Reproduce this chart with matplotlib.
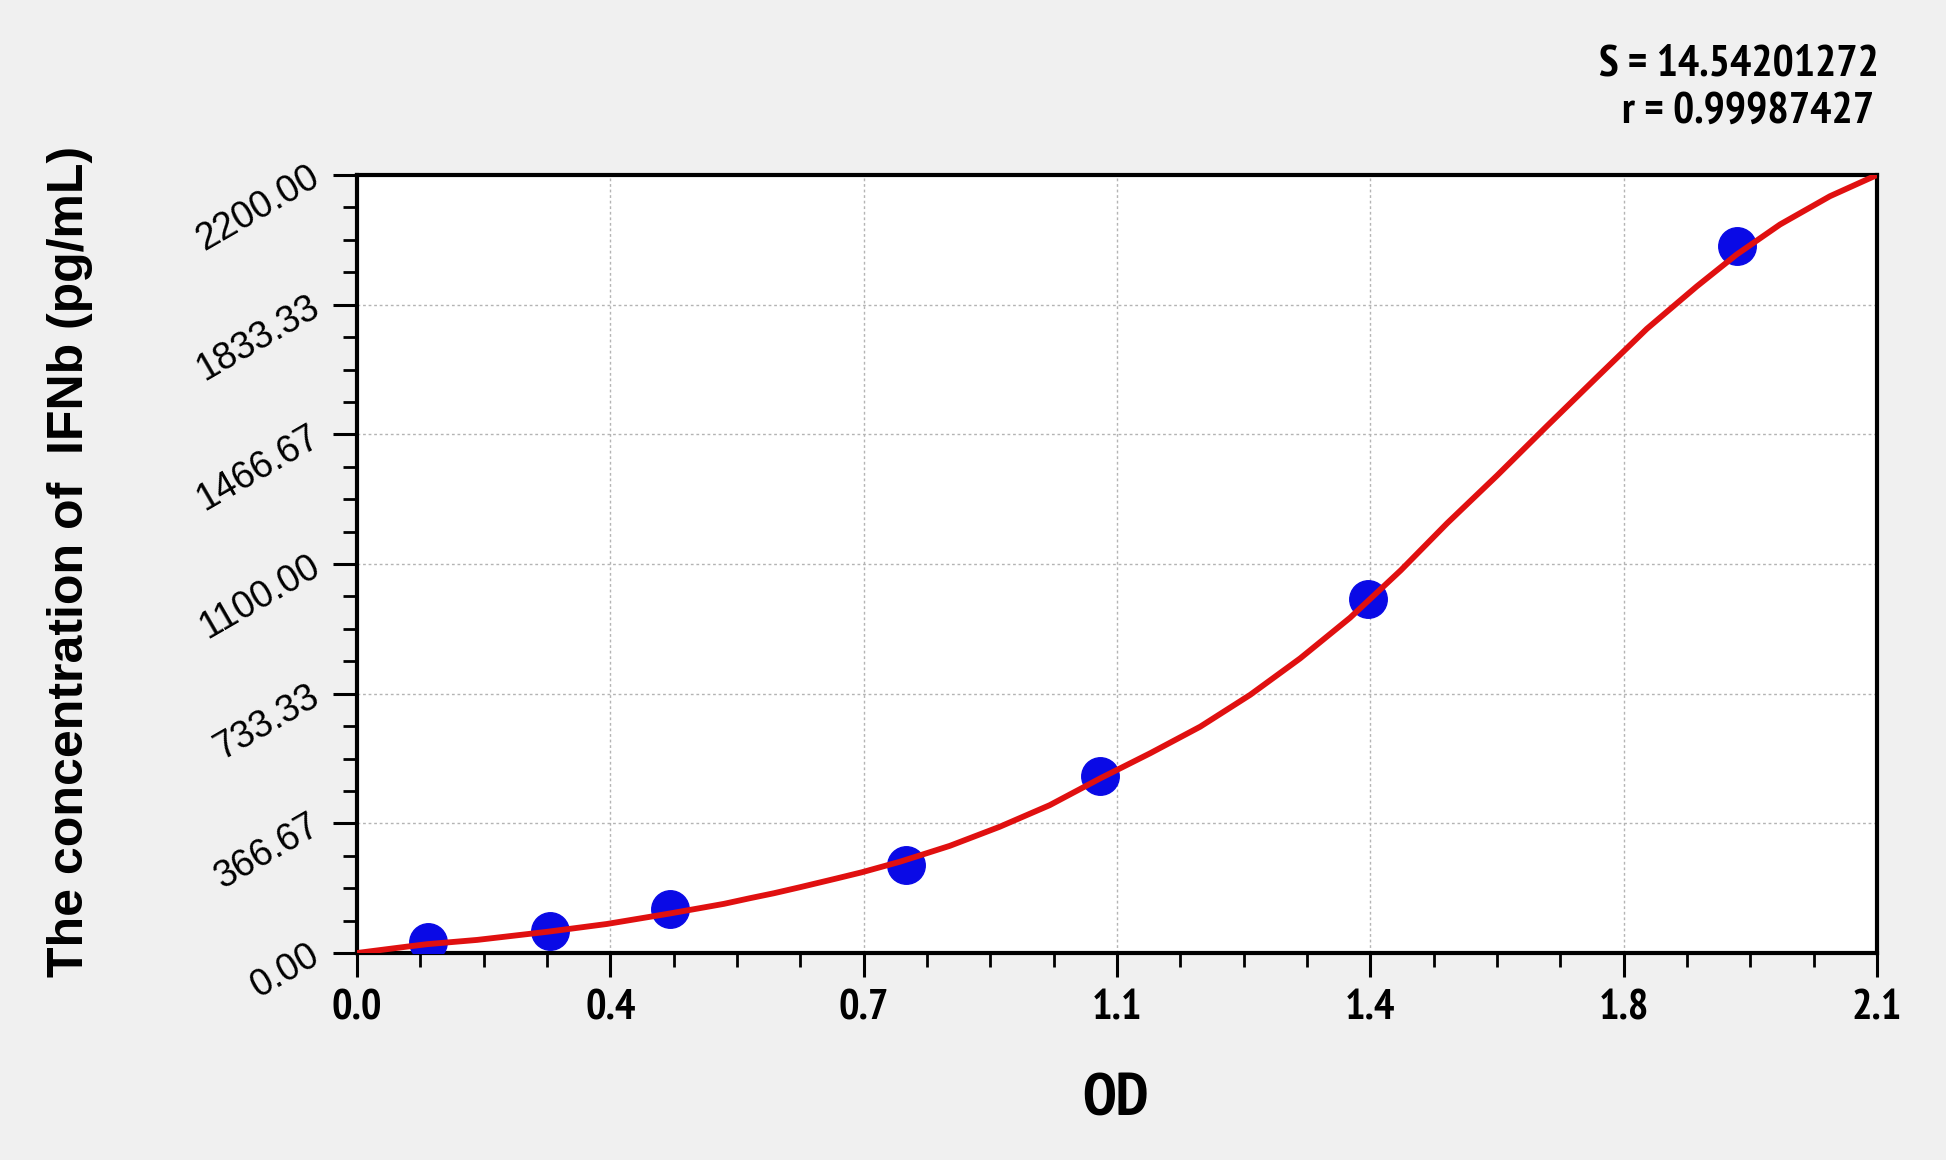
import numpy as np
import matplotlib
matplotlib.use("Agg")
import matplotlib.pyplot as plt
from matplotlib import font_manager as fm
from matplotlib.ticker import FixedLocator, MultipleLocator

# ---- data ----
std_od = [0.098, 0.267, 0.433, 0.759, 1.027, 1.397, 1.906]
std_conc = [31.25, 62.5, 125, 250, 500, 1000, 2000]

curve_od = [0.0, 0.069, 0.097, 0.166, 0.263, 0.345, 0.433, 0.507, 0.543, 0.576,
            0.612, 0.663, 0.697, 0.750, 0.819, 0.888, 0.957, 1.027, 1.096, 1.165,
            1.234, 1.303, 1.372, 1.442, 1.506, 1.575, 1.644, 1.713, 1.782, 1.851,
            1.906, 1.966, 2.035, 2.1]
curve_conc = [0, 18, 25, 37, 60, 82, 112, 139, 155, 169,
              186, 211, 228, 258, 303, 357, 418, 494, 565, 640,
              730, 833, 948, 1082, 1215, 1350, 1490, 1628, 1765, 1885,
              1975, 2060, 2140, 2200]

x_tick_labels = ['0.0', '0.4', '0.7', '1.1', '1.4', '1.8', '2.1']
y_tick_labels = ['0.00', '366.67', '733.33', '1100.00', '1466.67', '1833.33', '2200.00']
stats_lines = ['S = 14.54201272', 'r = 0.99987427']
x_label = 'OD'
y_label = 'The concentration of  IFNb (pg/mL)'

# ---- fonts ----
bold_fams = {f.name for f in fm.fontManager.ttflist if f.weight in (600, 700, 800, 'bold', 'semibold')}
prefs = ['Liberation Sans Narrow', 'Arial Narrow', 'Archivo Narrow', 'PT Sans Narrow',
         'Roboto Condensed', 'Open Sans Condensed', 'Fira Sans Condensed',
         'IBM Plex Sans Condensed', 'Barlow Semi Condensed', 'Encode Sans Condensed',
         'Asap Condensed', 'Ubuntu Condensed', 'Noto Sans Display Condensed']
narrow = [p for p in prefs if p in bold_fams][:1]
narrow_fam = narrow + ['Liberation Sans', 'DejaVu Sans']
reg_fam = ['Liberation Sans', 'DejaVu Sans']

fig = plt.figure(figsize=(19.46, 11.60), dpi=100, facecolor='#f0f0f0')
ax = fig.add_axes([357 / 1946, 1 - 953 / 1160, (1877 - 357) / 1946, (953 - 175) / 1160])
ax.set_facecolor('white')

ax.plot(std_od, std_conc, linestyle='none', marker='o', markersize=27,
        markerfacecolor='#0a0ae6', markeredgecolor='#0a0ae6', zorder=3)
ax.plot(curve_od, curve_conc, color='#e01010', linewidth=4.2, zorder=4,
        solid_joinstyle='round', solid_capstyle='round')

ax.set_xlim(0, 2.1)
ax.set_ylim(0, 2200)

xt = np.linspace(0, 2.1, len(x_tick_labels))
yt = np.linspace(0, 2200, len(y_tick_labels))
ax.xaxis.set_major_locator(FixedLocator(xt))
ax.yaxis.set_major_locator(FixedLocator(yt))
ax.xaxis.set_minor_locator(MultipleLocator(2.1 / 24))
ax.yaxis.set_minor_locator(MultipleLocator(2200 / 24))

ax.set_xticklabels(x_tick_labels, fontfamily=narrow_fam, fontweight='bold', fontsize=31)
ax.set_yticklabels(y_tick_labels, fontfamily=reg_fam, fontsize=27, rotation=30,
                   rotation_mode='anchor', ha='right', va='center')

ax.tick_params(axis='both', which='major', direction='out', length=17, width=2.2, color='black')
ax.tick_params(axis='both', which='minor', direction='out', length=10, width=2.0, color='black')
ax.tick_params(axis='x', which='major', pad=9)
ax.tick_params(axis='y', which='major', pad=12)

for s in ax.spines.values():
    s.set_linewidth(3.0)
    s.set_color('black')

ax.grid(True, which='major', linestyle=(0, (2, 2)), color='#b4b4b4', linewidth=1.0)
ax.set_axisbelow(True)

fig.text(1115 / 1946, 1 - 1100 / 1160, x_label, ha='center', va='center',
         fontfamily=narrow_fam, fontweight='bold', fontsize=44)
fig.text(70 / 1946, 1 - 561 / 1160, y_label, ha='center', va='center', rotation=90,
         fontfamily=reg_fam, fontweight='bold', fontsize=36)

fig.text(1879 / 1946, 1 - 64 / 1160, stats_lines[0], ha='right', va='center',
         fontfamily=narrow_fam, fontweight='bold', fontsize=32)
fig.text(1874 / 1946, 1 - 112 / 1160, stats_lines[1], ha='right', va='center',
         fontfamily=narrow_fam, fontweight='bold', fontsize=32)

fig.savefig('out.png', dpi=100, facecolor=fig.get_facecolor())
